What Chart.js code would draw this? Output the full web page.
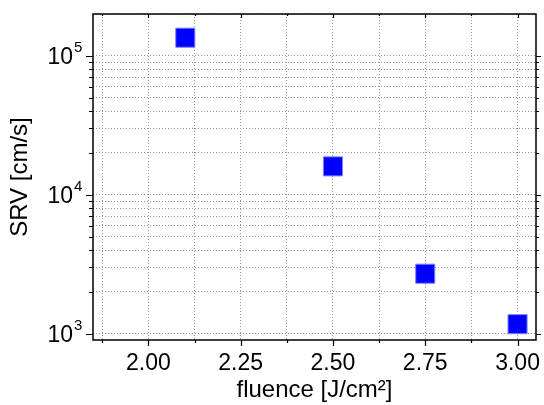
<!DOCTYPE html>
<html>
<head>
<meta charset="utf-8">
<script src="https://cdn.jsdelivr.net/npm/chart.js@4/dist/chart.umd.min.js"></script>
<style>
  html, body { margin: 0; padding: 0; background: #fff; }
  #wrap { width: 544px; height: 405px; }
</style>
</head>
<body>
<div id="wrap"><canvas id="srvChart" width="544" height="405"></canvas></div>
<script>
const fluence = [2.10, 2.50, 2.75, 3.00];
const srv = [135000, 16000, 2700, 1170];
const xTickLabels = [2.00, 2.25, 2.50, 2.75, 3.00];
const yDecades = [1000, 10000, 100000];

const FONT = '"Liberation Sans", Arial, sans-serif';

// grid every 0.125 between labels
const xGrid = [];
for (let v = 1.875; v <= 3.0001; v += 0.125) xGrid.push(+v.toFixed(3));
const yGrid = [];
yDecades.forEach(d => { for (let m = 1; m <= 9; m++) if (d * m <= 200000) yGrid.push(d * m); });
yGrid.push(200000);

const frame = {
  id: 'frame',
  afterDraw(chart) {
    const {ctx, chartArea: a, scales: {x, y}} = chart;
    ctx.save();
    ctx.strokeStyle = '#000';
    ctx.lineWidth = 1.5;
    ctx.strokeRect(a.left, a.top, a.right - a.left, a.bottom - a.top);
    ctx.lineWidth = 1.2;
    ctx.beginPath();
    xGrid.forEach(v => {
      const px = Math.round(x.getPixelForValue(v)) + 0.5;
      const major = xTickLabels.some(t => Math.abs(t - v) < 1e-6);
      ctx.moveTo(px, a.bottom); ctx.lineTo(px, a.bottom + (major ? 6 : 3));
      ctx.moveTo(px, a.top); ctx.lineTo(px, a.top + (major ? 4 : 2));
    });
    yGrid.forEach(v => {
      if (v > 190000) return;
      const py = Math.round(y.getPixelForValue(v)) + 0.5;
      const major = yDecades.includes(v);
      ctx.moveTo(a.left, py); ctx.lineTo(a.left - (major ? 7 : 4), py);
      ctx.moveTo(a.right, py); ctx.lineTo(a.right + (major ? 5 : 3), py);
    });
    ctx.stroke();
    ctx.fillStyle = '#000';
    // x tick labels
    ctx.font = '23px ' + FONT;
    ctx.textAlign = 'center';
    ctx.textBaseline = 'top';
    xTickLabels.forEach(v => {
      ctx.fillText(v.toFixed(2), x.getPixelForValue(v), a.bottom + 12);
    });
    // decade labels 10^n with a real superscript
    ctx.textBaseline = 'alphabetic';
    yDecades.forEach(v => {
      const py = y.getPixelForValue(v);
      ctx.font = '23px ' + FONT;
      ctx.textAlign = 'right';
      ctx.fillText('10', a.left - 20, py + 8);
      ctx.font = '15px ' + FONT;
      ctx.textAlign = 'left';
      ctx.fillText(String(Math.round(Math.log10(v))), a.left - 19, py - 4);
    });
    ctx.restore();
  }
};

new Chart(document.getElementById('srvChart'), {
  type: 'scatter',
  data: {
    datasets: [{
      data: fluence.map((f, i) => ({x: f, y: srv[i]})),
      pointStyle: 'rect',
      pointRadius: 13.5,
      pointHoverRadius: 13.5,
      backgroundColor: '#0000ff',
      borderColor: '#8080ff',
      borderWidth: 1
    }]
  },
  plugins: [frame],
  options: {
    responsive: false,
    animation: false,
    layout: { autoPadding: false, padding: { left: 0, top: 14, right: 8, bottom: 0 } },
    plugins: { legend: { display: false }, tooltip: { enabled: false } },
    scales: {
      x: {
        type: 'linear',
        min: 1.85,
        max: 3.05,
        afterBuildTicks: s => { s.ticks = xGrid.map(v => ({value: v})); },
        afterFit: s => { s.height = 65; },
        grid: { color: '#999', drawTicks: false, lineWidth: 1 },
        border: { display: false, dash: [1, 2] },
        ticks: { display: false },
        title: {
          display: true,
          text: 'fluence [J/cm²]',
          color: '#000',
          font: { family: FONT, size: 24 },
          padding: { top: 0, bottom: 0 }
        }
      },
      y: {
        type: 'logarithmic',
        min: 900,
        max: 200000,
        afterBuildTicks: s => { s.ticks = yGrid.map(v => ({value: v})); },
        afterFit: s => { s.width = 93; },
        grid: { color: '#999', drawTicks: false, lineWidth: 1 },
        border: { display: false, dash: [1, 2] },
        ticks: { display: false },
        title: {
          display: true,
          text: 'SRV [cm/s]',
          color: '#000',
          font: { family: FONT, size: 24 },
          padding: { top: 6, bottom: 0 }
        }
      }
    }
  }
});
</script>
</body>
</html>
